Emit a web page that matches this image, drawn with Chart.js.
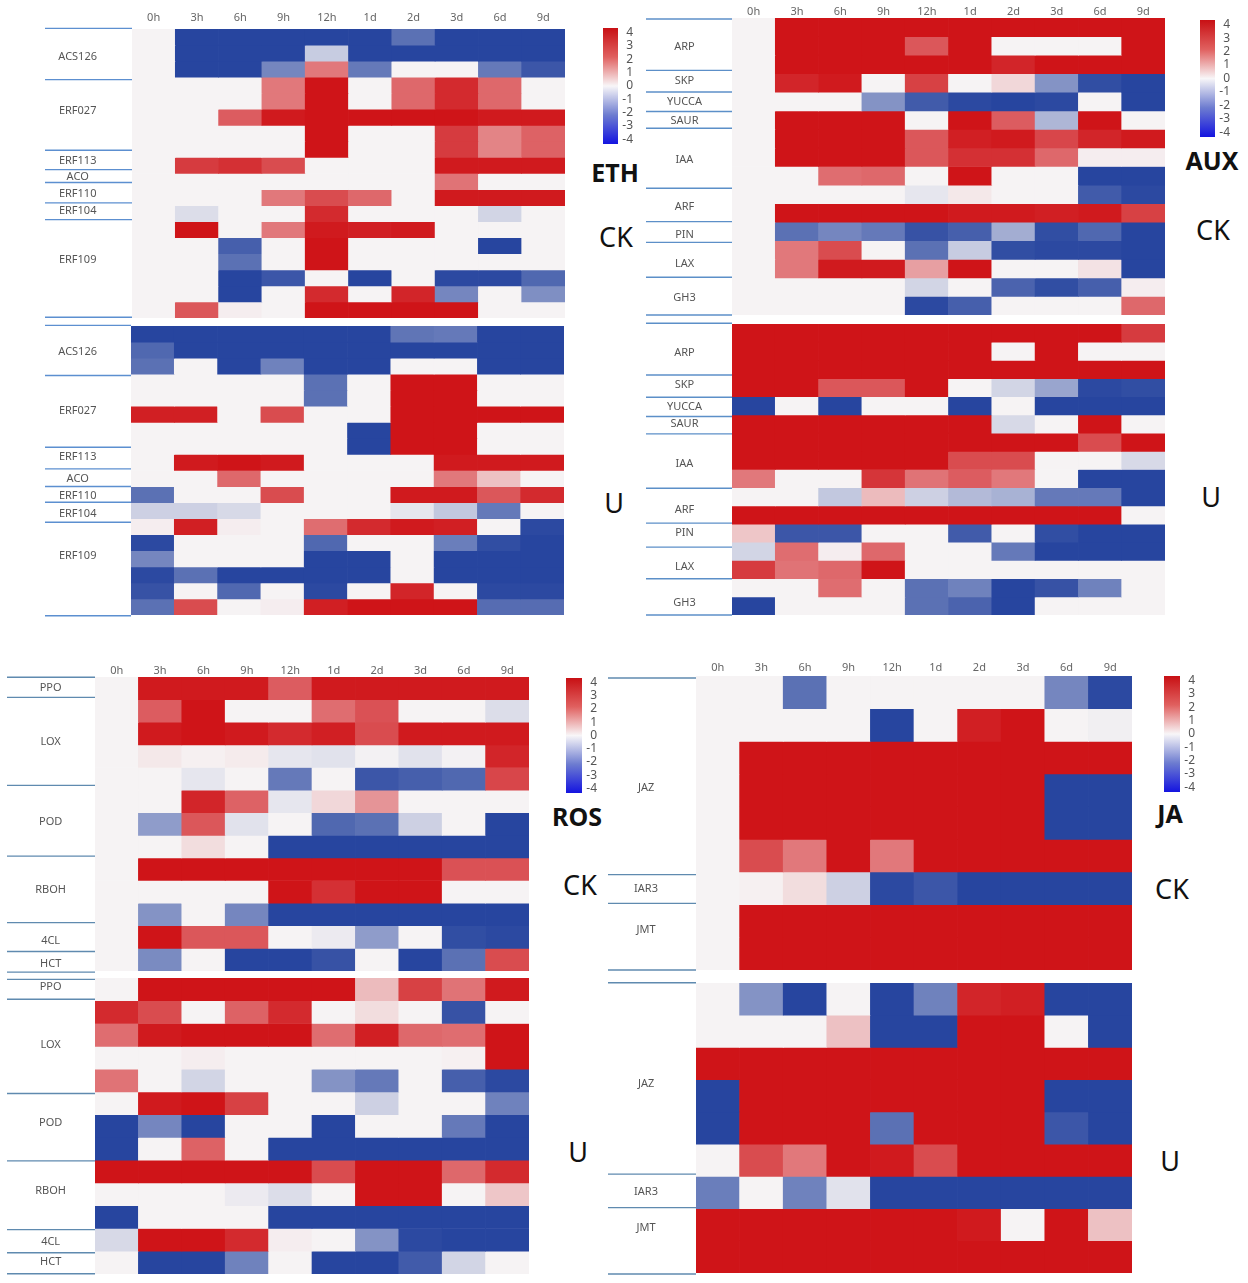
<!DOCTYPE html>
<html>
<head>
<meta charset="utf-8">
<title>Heatmaps</title>
<script src="https://cdn.jsdelivr.net/npm/chart.js@4"></script>
<style>
html,body{margin:0;padding:0;background:#fff;}
#page{position:relative;width:1248px;height:1283px;overflow:hidden;}
canvas{position:absolute;}
.tag{position:absolute;transform:translate(-50%,-50%);font-family:"Noto Sans",sans-serif;color:#111;line-height:1;white-space:nowrap;}
</style>
</head>
<body>
<div id="page"></div>
<script>
const timePoints = ['0h','3h','6h','9h','12h','1d','2d','3d','6d','9d'];
const colorbarTicks = [4,3,2,1,0,-1,-2,-3,-4];

const ethGenes = ['ACS126','ERF027','ERF113','ACO','ERF110','ERF104','ERF109'];
const auxGenes = ['ARP','SKP','YUCCA','SAUR','IAA','ARF','PIN','LAX','GH3'];
const rosGenes = ['PPO','LOX','POD','RBOH','4CL','HCT'];
const jaGenes  = ['JAZ','IAR3','JMT'];

const ethCk = [
 [0,-4,-4,-4,-4,-4,-3,-4,-4,-4],
 [0,-4,-4,-4,-0.9,-4,-4,-4,-4,-4],
 [0,-4,-4,-2.5,2.2,-2.8,0,0,-2.8,-3.6],
 [0,0,0,2.2,4,0,2.5,3.6,2.5,0],
 [0,0,0,2.2,4,0,2.5,3.6,2.5,0],
 [0,0,2.7,3.9,4,4,4,4,3.9,3.9],
 [0,0,0,0,4,0,0,3.3,2,2.6],
 [0,0,0,0,4,0,0,3.3,2,2.6],
 [0,3.3,3.5,3,0,0,0,3.9,3.9,3.9],
 [0,0,0,0,0,0,0,2.3,0,0],
 [0,0,0,2.2,3,2.5,0,3.9,3.9,3.9],
 [0,-0.5,0,0,3.6,0,0,0,-0.7,0],
 [0,4,0,2.2,3.9,3.8,3.9,0,0,0],
 [0,0,-3.4,0,4,0,0,0,-4,0],
 [0,0,-3,0,4,0,0,0,0,0],
 [0,0,-4,-3.6,0,-4,0,-3.9,-3.9,-3.2],
 [0,0,-4,0,3.6,0,3.7,-2.5,0,-2.3],
 [0,2.8,0.1,0,4,4,4,4,0,0]
];
const ethU = [
 [-4,-4,-4,-4,-4,-4,-2.9,-2.8,-4,-4],
 [-3.2,-4,-4,-4,-4,-4,-4,-4,-4,-4],
 [-3,0,-4,-2.6,-4,-4,0,0,-4,-4],
 [0,0,0,0,-3,0,4,4,0,0],
 [0,0,0,0,-3,0,4,4,0,0],
 [3.8,3.8,0,3,0,0,4,4,4,4],
 [0,0,0,0,0,-4,4,4,0,0],
 [0,0,0,0,0,-4,4,4,0,0],
 [0,3.9,4,3.9,0,0,0,3.9,3.9,3.9],
 [0,0,2.5,0,0,0,0,2.2,0.9,0],
 [-3,0,0,3,0,0,3.9,3.9,2.8,3.6],
 [-0.8,-0.8,-0.6,0,0,0,-0.3,-1,-2.8,0],
 [0.1,3.8,0.1,0,2.4,3.6,3.9,3.8,0,-3.9],
 [-3.9,0,0,0,-3.2,0,0,-2.7,-3.8,-4],
 [-2.5,0,0,0,-4,-4,0,-4,-4,-4],
 [-3.9,-3,-4,-4,-4,-4,0,-4,-4,-4],
 [-3.7,0,-3.2,0,-3.9,0,3.7,0,-3.9,-3.9],
 [-3,3,0,0.1,3.8,4,4,4,-3.1,-3.1]
];
const auxCk = [
 [0,4,4,4,4,4,4,4,4,4],
 [0,4,4,4,2.8,4,0,0,0,4],
 [0,4,4,4,4,4,3.7,4,4,4],
 [0,3.7,3.9,0,3.2,0,0.5,-2.2,-3.8,-4],
 [0,0,0,-2.2,-3.5,-3.9,-4,-3.9,0,-4],
 [0,4,4,4,0,4,2.7,-1.4,4,0],
 [0,4,4,4,2.8,3.8,3.9,3.1,3.7,3.9],
 [0,4,4,4,2.8,3.5,3.5,2.5,0.1,0.1],
 [0,0,2.4,2.5,0,4,0,0,-4,-4],
 [0,0,0,0,-0.3,0.2,0,0,-3.5,-3.9],
 [0,4,4,4,4,3.9,3.9,3.8,3.9,3.2],
 [0,-3,-2.5,-2.8,-3.7,-3.4,-1.6,-3.8,-3.2,-4],
 [0,2.2,3,0,-3,-0.9,-3.8,-3.9,-3.9,-4],
 [0,2.2,3.9,3.9,1.5,4,0,0,0.3,-4],
 [0,0,0,0,-0.7,0,-3.3,-3.8,-3.4,0.1],
 [0,0,0,0,-3.9,-3.4,0,0,0,2.5]
];
const auxU = [
 [4,4,4,4,4,4,4,4,4,3.3],
 [4,4,4,4,4,4,0,4,0,0],
 [4,4,4,4,4,4,4,4,4,4],
 [4,4,2.8,2.8,4,0,-0.7,-1.8,-3.9,-3.8],
 [-4,0,-4,0,0,-4,0,-4,-4,-4],
 [4,4,4,4,4,4,-0.6,0,4,0],
 [4,4,4,4,4,4,4,4,3,4],
 [4,4,4,4,4,3,3,0,0,-0.6],
 [2.2,0,0,3.4,2.3,2.7,2.2,0,-4,-4],
 [0,0,-1,1,-0.8,-1.3,-1.5,-2.8,-2.8,-4],
 [4,4,4,4,4,4,4,4,4,0],
 [0.8,-3.6,-3.6,0,0,-3.5,0,-3.8,-4,-4],
 [-0.7,2.4,0.1,2.5,0,0,-2.8,-4,-4,-4],
 [3.3,2.3,2.5,4,0,0,0,0,0,0],
 [0,0,2.4,0,-3,-2.6,-4,-3.7,-2.6,0],
 [-4,0,0,0,-3,-3.3,-4,0,0,0]
];
const rosCk = [
 [0,3.9,3.9,3.9,2.7,3.9,3.9,3.9,3.9,3.9],
 [0,2.7,4,0,0,2.4,2.9,0,0,-0.5],
 [0,3.9,4,3.9,3.6,3.8,3,3.9,3.9,3.9],
 [0,0.2,0.05,0.15,-0.3,-0.4,-0.05,-0.4,-0.05,3.7],
 [0,0,-0.3,0,-2.8,0,-3.6,-3.4,-3.2,3.1],
 [0,0,3.7,2.6,-0.3,0.5,1.7,0,0,0],
 [0,-2,2.8,-0.4,0,-3.2,-3,-0.8,0,-4],
 [0,0,0.4,0,-4,-4,-4,-4,-4,-4],
 [0,4,4,4,4,4,4,4,2.9,2.9],
 [0,0,0,0,4,3.5,4,4,0,0],
 [0,-2.2,0,-2.5,-4,-4,-4,-4,-4,-4],
 [0,4,2.8,2.8,0,-0.2,-2,0,-3.8,-3.9],
 [0,-2.4,0,-4,-4,-3.7,0,-4,-3,3]
];
const rosU = [
 [0,4,4,4,4,4,1,3.2,2.3,3.9],
 [3.6,3,0,2.6,3.6,0,0.4,0,-3.7,0],
 [2.4,3.9,4,4,4,2.4,3.8,2.5,2.4,4],
 [0,0,0.1,0,0,0,0,0,0.05,4],
 [2.3,0,-0.7,0,0,-2.2,-2.8,0,-3.4,-3.9],
 [0,3.9,4,3.2,0,0,-0.8,0,0,-2.6],
 [-4,-2.5,-4,0,0,-4,0,0,-2.8,-4],
 [-4,0,2.6,0,-4,-4,-4,-4,-4,-4],
 [4,4,4,4,4,3,4,4,2.5,3.6],
 [0,0,0,-0.2,-0.5,0,4,4,0,0.8],
 [-4,0,0,0,-4,-4,-4,-4,-4,-4],
 [-0.6,4,4,3.6,0.1,0,-2.2,-3.9,-4,-4],
 [0,-4,-4,-2.6,0,-4,-4,-3.5,-0.7,0]
];
const jaCk = [
 [0,0,-3,0,0,0,0,0,-2.5,-3.9],
 [0,0,0,0,-4,0,3.8,4,0,-0.1],
 [0,4,4,4,4,4,4,4,4,4],
 [0,4,4,4,4,4,4,4,-4,-4],
 [0,4,4,4,4,4,4,4,-4,-4],
 [0,3,2.2,4,2.2,4,4,4,4,4],
 [0,0.05,0.4,-0.8,-3.9,-3.6,-4,-4,-4,-4],
 [0,4,4,4,4,4,4,4,4,4],
 [0,4,4,4,4,4,4,4,4,4]
];
const jaU = [
 [0,-2.2,-4,0,-4,-2.6,3.7,3.8,-4,-4],
 [0,0,0,0.9,-4,-4,4,4,0,-4],
 [4,4,4,4,4,4,4,4,4,4],
 [-4,4,4,4,4,4,4,4,-4,-4],
 [-4,4,4,4,-3,4,4,4,-3.6,-4],
 [0,3,2.2,4,3.9,3,4,4,4,4],
 [-2.7,0,-2.6,-0.4,-4,-4,-4,-4,-4,-4],
 [4,4,4,4,4,4,3.9,0,4,0.9],
 [4,4,4,4,4,4,4,4,4,4]
];

/* layout (page pixels) and annotation places (in row units) */
const PAD = 3;
const panels = [
 {rows:ethCk,genes:ethGenes,left:45,x0:132,x1:565,y0:29,y1:318,labelX:78,tickPad:5,line:'#5c8fd0',
  geneAt:[1.74,5.12,8.23,9.23,10.27,11.33,14.4],seps:[-0.04,3.15,7.55,8.76,9.56,10.83,11.87,17.95]},
 {rows:ethU,genes:ethGenes,left:45,x0:131,x1:564,y0:326,y1:615,labelX:78,line:'#5c8fd0',
  geneAt:[1.62,5.26,8.15,9.52,10.6,11.7,14.3],seps:[-0.04,3.08,7.55,8.9,10,10.98,12.22,18.05]},
 {rows:auxCk,genes:auxGenes,left:646,x0:732,x1:1165,y0:18,y1:315,labelX:685,tickPad:0,line:'#5c8fc8',
  geneAt:[1.58,3.38,4.53,5.52,7.64,10.16,11.69,13.22,15.1],seps:[0.05,2.82,3.99,5.04,5.94,9.17,10.97,12.09,13.97,16]},
 {rows:auxU,genes:auxGenes,left:646,x0:732,x1:1165,y0:324,y1:615,labelX:685,line:'#5c8fc8',
  geneAt:[1.58,3.35,4.54,5.51,7.69,10.22,11.5,13.37,15.35],seps:[-0.04,2.8,4.03,5.09,6.04,9.03,10.95,12.27,14.01,16]},
 {rows:rosCk,genes:rosGenes,left:7,x0:95,x1:529,y0:677,y1:971,labelX:51,tickPad:0,line:'#5f8aaf',
  geneAt:[0.46,2.89,6.42,9.41,11.65,12.68],seps:[0.01,0.9,4.79,7.92,10.86,12.14,13.05]},
 {rows:rosU,genes:rosGenes,left:7,x0:95,x1:529,y0:978,y1:1274,labelX:51,line:'#5f8aaf',
  geneAt:[0.39,2.92,6.38,9.33,11.6,12.48],seps:[0.06,0.93,5.07,8.03,11.05,12.07,12.99]},
 {rows:jaCk,genes:jaGenes,left:608,x0:696,x1:1132,y0:676,y1:970,labelX:646,tickPad:2,line:'#5f8aaf',
  geneAt:[3.41,6.52,7.78],seps:[0.06,6.08,6.96,9]},
 {rows:jaU,genes:jaGenes,left:608,x0:696,x1:1132,y0:983,y1:1273,labelX:646,line:'#5f8aaf',
  geneAt:[3.14,6.47,7.59],seps:[-0.01,5.93,6.97,9.03]}
];
const colorbars = [
 {x0:603,x1:618,y0:28,y1:144},
 {x0:1200,x1:1215,y0:20,y1:137},
 {x0:566,x1:582,y0:678,y1:793},
 {x0:1164,x1:1180,y0:676,y1:792}
];
const tags = [
 ['ETH',615,172,true],['CK',616,236,false],['U',614,502,false],
 ['AUX',1212,160,true],['CK',1213,229,false],['U',1211,496,false],
 ['ROS',577,816,true],['CK',580,884,false],['U',578,1151,false],
 ['JA',1170,813,true],['CK',1172,888,false],['U',1170,1160,false]
];

const page = document.getElementById('page');
const FONT = '"Noto Sans", sans-serif';
const WHITE=[246,243,244], RED=[207,20,24], BLUE=[39,69,159];
function cellColor(v){
  const t = Math.min(Math.abs(v)/4,1), c = v>=0?RED:BLUE;
  return 'rgb('+WHITE.map((w,i)=>Math.round(w+(c[i]-w)*t)).join(',')+')';
}
function addCanvas(x,y,w,h){
  const c=document.createElement('canvas');
  c.width=w;c.height=h;
  c.style.cssText='left:'+x+'px;top:'+y+'px;width:'+w+'px;height:'+h+'px;';
  page.appendChild(c);
  return c;
}
function noScalePadding(s){s.paddingTop=0;s.paddingBottom=0;s.paddingLeft=0;s.paddingRight=0;}
const measure=document.createElement('canvas').getContext('2d');

panels.forEach(p=>{
  const hasTop = p.tickPad!==undefined;
  const topH = hasTop?24:0;
  const canvasTop = p.y0-PAD-topH;
  const w = p.x1-p.left+1, h = p.y1-canvasTop+PAD;
  const cv = addCanvas(p.left,canvasTop,w,h);
  measure.font='11px '+FONT;
  const widest = Math.max(...p.genes.map(g=>measure.measureText(g).width));
  const yPad = Math.round(p.x0-p.labelX-widest/2);
  const sepPlugin = {
    id:'sep',
    afterDraw(chart){
      const y=chart.scales.y, ctx=chart.ctx;
      ctx.save();ctx.strokeStyle=p.line;ctx.lineWidth=1.4;
      p.seps.forEach(s=>{
        const py=y.getPixelForValue(s);
        ctx.beginPath();ctx.moveTo(0,py);ctx.lineTo(p.x0-p.left,py);ctx.stroke();
      });
      ctx.restore();
    }
  };
  new Chart(cv,{
    type:'bar',
    data:{labels:timePoints,datasets:p.rows.map((r,i)=>({
      data:r.map(()=>[i,i+1]),
      backgroundColor:r.map(cellColor),
      borderWidth:0,grouped:false,barPercentage:1,categoryPercentage:1
    }))},
    options:{
      responsive:false,animation:false,devicePixelRatio:1,
      layout:{padding:{top:PAD,bottom:PAD,left:0,right:1}},
      plugins:{legend:{display:false},tooltip:{enabled:false},title:{display:false}},
      scales:{
        x:{type:'category',position:'top',display:hasTop,
           grid:{display:false,drawTicks:false},border:{display:false},
           ticks:{color:'#666',font:{family:FONT,size:11},padding:p.tickPad||0,maxRotation:0,autoSkip:false},
           afterFit(s){s.height=topH;noScalePadding(s);}},
        y:{type:'linear',reverse:true,min:0,max:p.rows.length,
           grid:{display:false,drawTicks:false},border:{display:false},
           afterBuildTicks(s){s.ticks=p.geneAt.map(v=>({value:v}));},
           afterFit(s){s.width=p.x0-p.left;noScalePadding(s);},
           ticks:{color:'#555',font:{family:FONT,size:11},crossAlign:'center',padding:yPad,autoSkip:false,
                  callback(v,i){return p.genes[i];}}}
      }
    },
    plugins:[sepPlugin]
  });
});

const CB_MAX = 4.35;
colorbars.forEach(b=>{
  const cv = addCanvas(b.x0,b.y0-2,b.x1-b.x0+15,b.y1-b.y0+4);
  new Chart(cv,{
    type:'bar',
    data:{labels:[''],datasets:[{data:[[-CB_MAX,CB_MAX]],borderWidth:0,barPercentage:1,categoryPercentage:1,
      backgroundColor(ctx){
        const a=ctx.chart.chartArea;
        if(!a) return '#ccc';
        const g=ctx.chart.ctx.createLinearGradient(0,a.top,0,a.bottom);
        g.addColorStop(0,'#c81014');g.addColorStop(0.25,'#e0605f');g.addColorStop(0.5,'#f8f6f8');
        g.addColorStop(0.75,'#6d7cd0');g.addColorStop(1,'#1414e0');
        return g;
      }}]},
    options:{
      responsive:false,animation:false,devicePixelRatio:1,
      layout:{padding:{top:2,bottom:2,left:0,right:0}},
      plugins:{legend:{display:false},tooltip:{enabled:false}},
      scales:{
        x:{display:false},
        y:{position:'right',min:-CB_MAX,max:CB_MAX,
           grid:{display:false,drawTicks:false},border:{display:false},
           afterBuildTicks(s){s.ticks=colorbarTicks.map(v=>({value:v}));},
           afterFit(s){s.width=15;noScalePadding(s);},
           ticks:{color:'#555',font:{family:FONT,size:12},padding:0,crossAlign:'far',autoSkip:false,
                  callback(v){return String(v);}}}
      }
    }
  });
});

tags.forEach(([t,x,y,bold])=>{
  const d=document.createElement('div');
  d.className='tag';d.textContent=t;
  d.style.left=x+'px';d.style.top=y+'px';
  d.style.fontSize=(bold?25:27)+'px';
  d.style.fontWeight=bold?'700':'400';
  page.appendChild(d);
});
</script>
</body>
</html>
